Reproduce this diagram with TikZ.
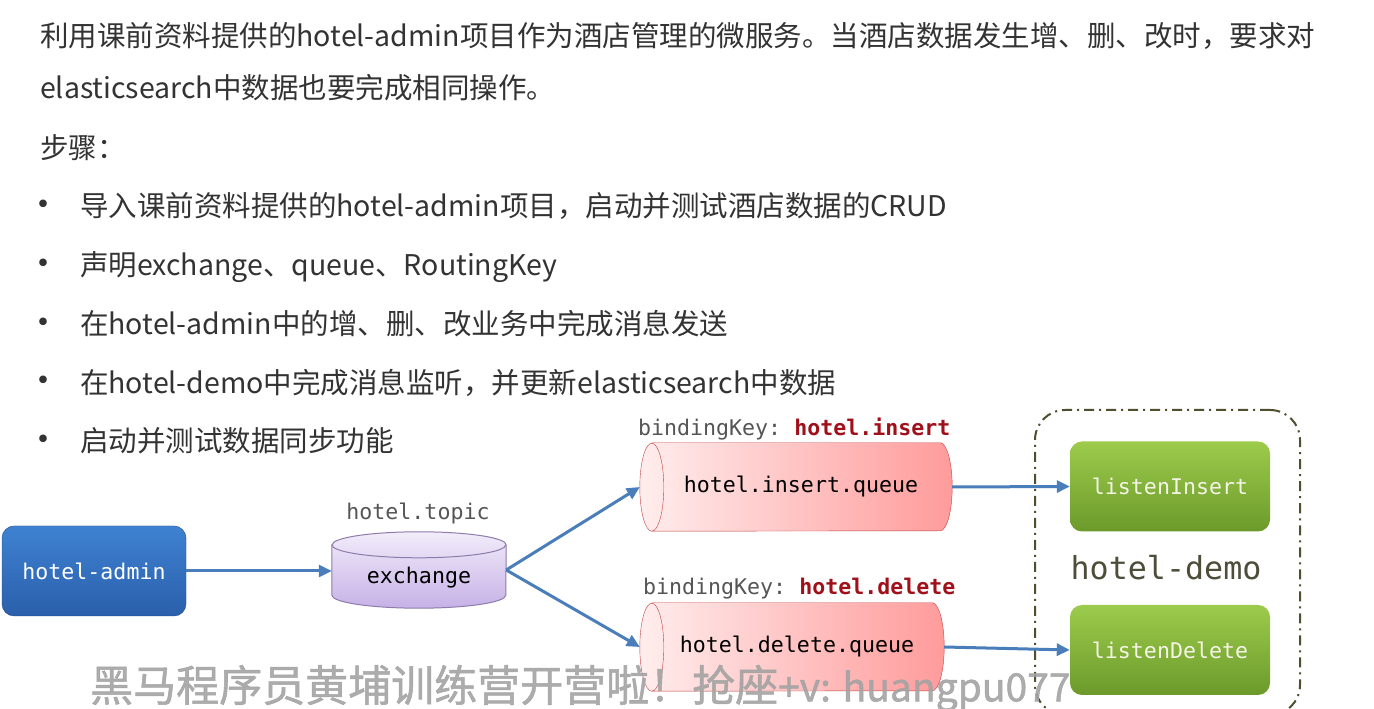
\documentclass[tikz,border=0pt]{standalone}
\usepackage{fontspec}
\setmainfont{Noto Sans CJK SC}
\setmonofont{DejaVu Sans Mono}
\newfontfamily\markfont[FakeBold=1.2]{Noto Sans CJK SC}
\usetikzlibrary{arrows.meta,backgrounds}
\definecolor{bodytext}{HTML}{333333}
\definecolor{adminTop}{HTML}{3F82D2}
\definecolor{adminBot}{HTML}{2A5FAB}
\definecolor{greenTop}{HTML}{9DCB4C}
\definecolor{greenBot}{HTML}{6B9A2B}
\definecolor{listenText}{HTML}{F4F4E6}
\definecolor{exchTop}{HTML}{F2ECFA}
\definecolor{exchBot}{HTML}{C6B1E6}
\definecolor{exchLine}{HTML}{8E7CAA}
\definecolor{qLeft}{HTML}{FFEDED}
\definecolor{qRight}{HTML}{FF9B9B}
\definecolor{qLine}{HTML}{C23E3E}
\definecolor{keyGray}{HTML}{555555}
\definecolor{keyRed}{HTML}{A0101A}
\definecolor{flowBlue}{HTML}{4A7EBB}
\definecolor{demoLine}{HTML}{4F4F30}
\definecolor{demoText}{HTML}{4D4D3A}
\definecolor{markGray}{HTML}{A3A3A3}
\tikzset{
  para/.style={anchor=base west, inner sep=0pt, text=bodytext,
    font=\fontsize{28.5}{34}\selectfont},
  bulletmark/.style={inner sep=0pt, text=bodytext, font=\fontsize{36}{40}\selectfont},
  mono/.style={inner sep=0pt, font=\ttfamily\fontsize{21.6}{26}\selectfont},
  app/.style={mono, rounded corners=12pt, minimum width=184pt, minimum height=90pt,
    top color=adminTop, bottom color=adminBot, draw=adminBot!80!black, text=white},
  listener/.style={mono, rounded corners=12pt, minimum width=200pt, minimum height=90pt,
    top color=greenTop, bottom color=greenBot, text=listenText},
  flow/.style={draw=flowBlue, line width=3pt, -{Triangle[length=13pt,width=12pt]}},
}
\begin{document}
\begin{tikzpicture}[x=1pt,y=1pt]
  \useasboundingbox (0,0) rectangle (1374,709);
  \node[para] (intro1) at (40,662) {利用课前资料提供的hotel-admin项目作为酒店管理的微服务。当酒店数据发生增、删、改时，要求对};
  \node[para] (intro2) at (40,610) {elasticsearch中数据也要完成相同操作。};
  \node[para] (steps) at (40,550) {步骤：};
  \foreach \t [count=\i] in {导入课前资料提供的hotel-admin项目，启动并测试酒店数据的CRUD,
      声明exchange、queue、RoutingKey,
      在hotel-admin中的增、删、改业务中完成消息发送,
      在hotel-demo中完成消息监听，并更新elasticsearch中数据,
      启动并测试数据同步功能} {
    \node[bulletmark] (bullet\i) at (43,{500-58.75*(\i-1)}) {•};
    \node[para] (step\i) at (80,{492-58.75*(\i-1)}) {\t};
  }

  \node[app] (admin) at (94,138) {hotel-admin};
  \node[inner sep=0pt, minimum width=174pt, minimum height=76pt] (exch) at (419,139) {};
  \node[mono] (exchlabel) at ([yshift=-8pt]exch.center) {exchange};
  \node[mono, text=keyGray] (topic) at (418,196) {hotel.topic};

  \node[mono, minimum width=312pt, minimum height=88pt] (insq) at (796,222) {};
  \node[mono] (insqlabel) at ([xshift=5pt]insq.center) {hotel.insert.queue};
  \node[mono, minimum width=304pt, minimum height=88pt] (delq) at (792,62) {};
  \node[mono] (delqlabel) at ([xshift=5pt]delq.center) {hotel.delete.queue};
  \node[mono, anchor=west, text=keyGray] (inskey) at (638,280)
    {bindingKey: \textcolor{keyRed}{\bfseries hotel.insert}};
  \node[mono, anchor=west, text=keyGray] (delkey) at (643,120)
    {bindingKey: \textcolor{keyRed}{\bfseries hotel.delete}};

  \node[draw=demoLine, line width=2pt, rounded corners=30pt,
    dash pattern=on 10pt off 5pt on 2pt off 5pt,
    minimum width=265pt, minimum height=305pt] (demo) at (1167.5,146.5) {};
  \node[listener] (lins) at (1170,222.5) {listenInsert};
  \node[listener] (ldel) at (1170,59) {listenDelete};
  \node[inner sep=0pt, text=demoText, font=\ttfamily\fontsize{31.7}{36}\selectfont]
    (demolabel) at (1166,141) {hotel-demo};

  \begin{scope}[on background layer]
    \fill[white] (0,0) rectangle (1374,709);
    \shadedraw[top color=exchTop, bottom color=exchBot, draw=exchLine, line width=1pt]
      ([yshift=-13pt]exch.north west) -- ([yshift=13pt]exch.south west)
      arc[start angle=180, end angle=360, x radius=87pt, y radius=13pt]
      -- ([yshift=-13pt]exch.north east)
      arc[start angle=0, end angle=180, x radius=87pt, y radius=13pt] -- cycle;
    \draw[exchLine, line width=1pt] ([yshift=-13pt]exch.north west)
      arc[start angle=180, end angle=360, x radius=87pt, y radius=13pt];

    \shadedraw[left color=qLeft, right color=qRight, draw=qLine]
      ([xshift=12pt]insq.north west) -- ([xshift=-12pt]insq.north east)
      arc[start angle=90, end angle=-90, x radius=12pt, y radius=44pt]
      -- ([xshift=12pt]insq.south west)
      arc[start angle=270, end angle=90, x radius=12pt, y radius=44pt] -- cycle;
    \draw[qLine] ([xshift=12pt]insq.south west)
      arc[start angle=-90, end angle=90, x radius=12pt, y radius=44pt];

    \shadedraw[left color=qLeft, right color=qRight, draw=qLine]
      ([xshift=12pt]delq.north west) -- ([xshift=-12pt]delq.north east)
      arc[start angle=90, end angle=-90, x radius=12pt, y radius=44pt]
      -- ([xshift=12pt]delq.south west)
      arc[start angle=270, end angle=90, x radius=12pt, y radius=44pt] -- cycle;
    \draw[qLine] ([xshift=12pt]delq.south west)
      arc[start angle=-90, end angle=90, x radius=12pt, y radius=44pt];
  \end{scope}

  \draw[flow] (admin.east) -- (admin.east -| exch.west);
  \draw[flow] (exch.east) -- (insq.west);
  \draw[flow] (exch.east) -- (delq.west);
  \draw[flow] (insq.east) -- (lins.west);
  \draw[flow] (delq.east) -- (ldel.west);

  \node[anchor=west, inner sep=0pt, text=markGray, opacity=0.9,
    font=\markfont\fontsize{43}{50}\selectfont] (watermark) at (90,21)
    {黑马程序员黄埔训练营开营啦！抢座{\fontsize{39}{46}\selectfont+v: huangpu077}};
\end{tikzpicture}
\end{document}
